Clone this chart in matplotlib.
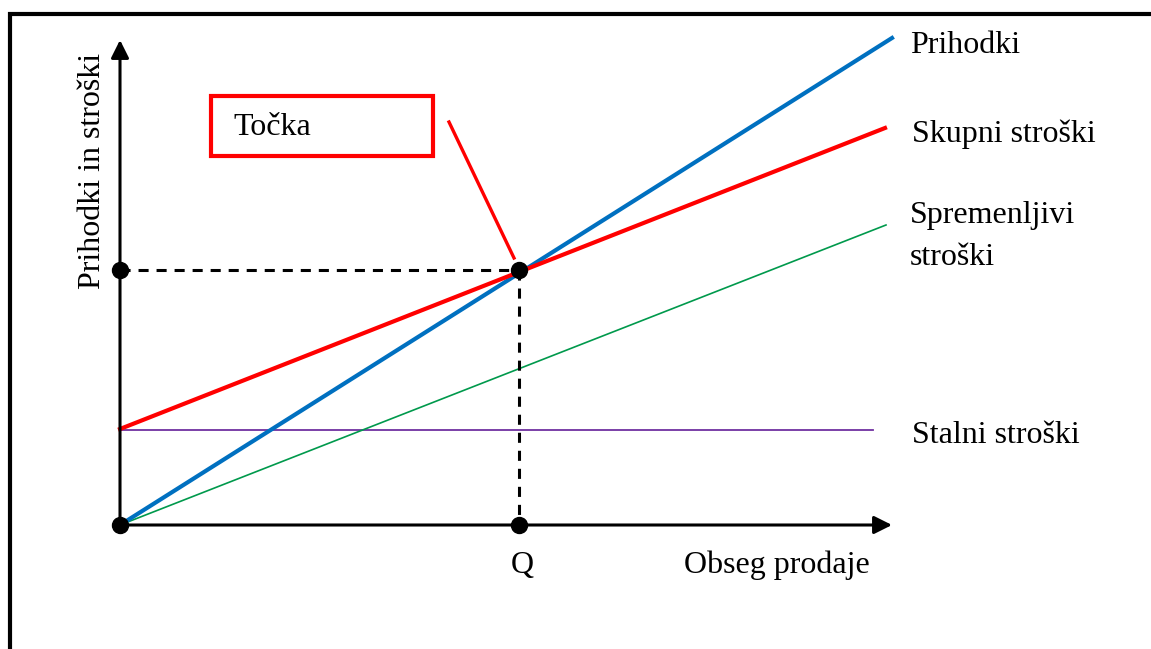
import matplotlib.pyplot as plt

# --- DATA (volume / money units) ---
volume = [0, 772]
revenue = [0, 487]            # Prihodki
total_cost = [96, 397]        # Skupni stroški
volume_total = [0, 765]
variable_cost = [0, 300]      # Spremenljivi stroški
volume_variable = [0, 766]
fixed_cost = [95, 95]         # Stalni stroški
volume_fixed = [0, 753]

q_volume = 399                # break-even volume Q
q_money = 255                 # break-even revenue / cost

axis_x_end = 772
axis_y_end = 485

# --- FIGURE ---
W, H = 1151, 649
fig = plt.figure(figsize=(W / 100, H / 100), dpi=100)
ax = fig.add_axes([0, 0, 1, 1])
ax.set_xlim(-120, W - 120)
ax.set_ylim(525 - H, 525)
ax.axis('off')

plt.rcParams['font.family'] = ['Liberation Serif', 'DejaVu Serif']
FS = 23

# outer frame (only left and top edges visible)
ax.plot([10 / W, 10 / W, 1.02], [-0.02, 1 - 14 / H, 1 - 14 / H], transform=ax.transAxes,
        color='black', lw=3, solid_joinstyle='miter', clip_on=False)

# axes with arrows
arrow = dict(arrowstyle='-|>,head_length=0.6,head_width=0.3', mutation_scale=18,
             lw=2.2, color='black', shrinkA=0, shrinkB=0)
ax.annotate('', xy=(0, axis_y_end), xytext=(0, 0), arrowprops=arrow)
ax.annotate('', xy=(axis_x_end, 0), xytext=(0, 0), arrowprops=arrow)

# cost / revenue lines
ax.plot(volume_fixed, fixed_cost, color='#7030A0', lw=1.3)
ax.plot(volume_variable, variable_cost, color='#00994C', lw=1.2)
ax.plot(volume, revenue, color='#0070C0', lw=3)
ax.plot(volume_total, total_cost, color='#FF0000', lw=3)

# break-even guides
ax.plot([0, q_volume], [q_money, q_money], color='black', lw=2.2, ls=(0, (3.3, 2.6)))
ax.plot([q_volume, q_volume], [q_money, 0], color='black', lw=2.2, ls=(0, (3.3, 2.6)))
ax.plot([0, 0, q_volume, q_volume], [0, q_money, q_money, 0], 'o', color='black',
        ms=11.5, zorder=5)

# "Točka" callout
ax.add_patch(plt.Rectangle((91, 369), 222, 60, fill=False, ec='#FF0000', lw=3))
ax.text(113, 390, 'Točka', fontsize=FS, va='baseline')
ax.plot([329, 394], [403, 267], color='#FF0000', lw=2.4)

# labels
ax.text(790, 472, 'Prihodki', fontsize=FS, va='baseline')
ax.text(792, 383, 'Skupni stroški', fontsize=FS, va='baseline')
ax.text(790, 302, 'Spremenljivi', fontsize=FS, va='baseline')
ax.text(790, 260, 'stroški', fontsize=FS, va='baseline')
ax.text(792, 82, 'Stalni stroški', fontsize=FS, va='baseline')
ax.text(564, -48, 'Obseg prodaje', fontsize=FS, va='baseline')
ax.text(402, -48, 'Q', fontsize=FS, va='baseline', ha='center')
ax.text(-20, 354, 'Prihodki in stroški', fontsize=FS, rotation=90,
        rotation_mode='anchor', ha='center', va='baseline')

fig.savefig('out.png', dpi=100)
